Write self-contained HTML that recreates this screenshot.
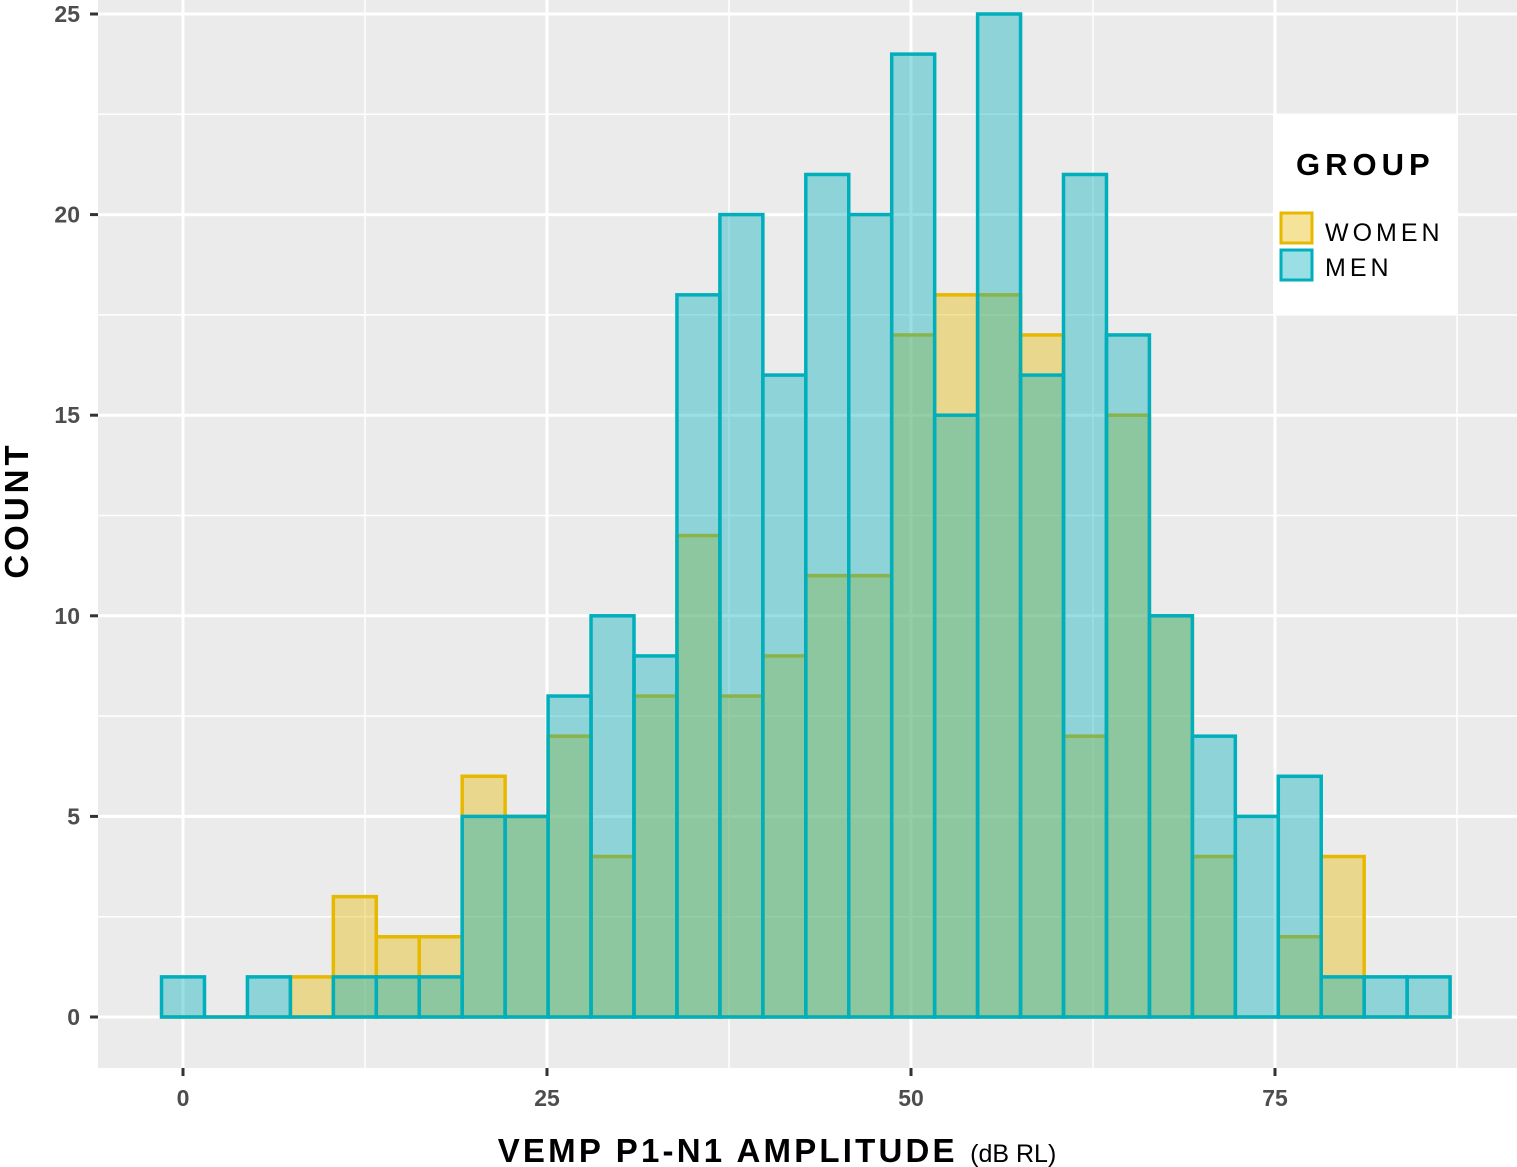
<!DOCTYPE html>
<html><head><meta charset="utf-8"><style>
html,body{margin:0;padding:0;background:#fff;}
svg{display:block;font-family:"Liberation Sans",sans-serif;}
</style></head><body>
<svg id="chart" width="1517" height="1167" xmlns="http://www.w3.org/2000/svg">
<rect x="98" y="0" width="1419" height="1068" fill="#EBEBEB"/>
<g id="grid"></g>
<g id="bars"></g>
<g id="axes"></g>
<text transform="translate(28,510) rotate(-90)" text-anchor="middle" font-size="33" font-weight="900" fill="#000" letter-spacing="4">COUNT</text>
<text x="777" y="1162" text-anchor="middle" font-size="33" font-weight="900" fill="#000" letter-spacing="3.2">VEMP P1-N1 AMPLITUDE <tspan font-size="25" font-weight="normal" letter-spacing="0">(dB RL)</tspan></text>
<g>
<rect x="1273" y="115" width="185" height="200" fill="#fff"/>
<text x="1296" y="175" font-size="31" font-weight="900" letter-spacing="5">GROUP</text>
<rect x="1281" y="213" width="31" height="30" fill="#E7B800" fill-opacity="0.4" stroke="#E7B800" stroke-width="3"/>
<rect x="1281" y="250" width="31" height="30" fill="#00AFBB" fill-opacity="0.4" stroke="#00AFBB" stroke-width="3"/>
<text x="1325" y="241" font-size="25" letter-spacing="4">WOMEN</text>
<text x="1325" y="276" font-size="25" letter-spacing="4">MEN</text>
</g>
</svg>
<script>
const binCenters=[0,2.95,5.9,8.85,11.8,14.75,17.7,20.65,23.6,26.55,29.5,32.45,35.4,38.35,41.3,44.25,47.2,50.15,53.1,56.05,59,61.95,64.9,67.85,70.8,73.75,76.7,79.65,82.6,85.55];
const womenCounts=[0,0,0,1,3,2,2,6,5,7,4,8,12,8,9,11,11,17,18,18,17,7,15,10,4,0,2,4,0,0];
const menCounts=[1,0,1,0,1,1,1,5,5,8,10,9,18,20,16,21,20,24,15,25,16,21,17,10,7,5,6,1,1,1];
const xTicks=[0,25,50,75];
const yTicks=[0,5,10,15,20,25];
const binWidth=2.95;
const NS="http://www.w3.org/2000/svg";
const xs=v=>183+v*14.56;
const ys=v=>1017-v*40.12;
function mk(tag,attrs,parent){const e=document.createElementNS(NS,tag);for(const k in attrs)e.setAttribute(k,attrs[k]);parent.appendChild(e);return e;}
const grid=document.getElementById('grid');
for(let v=-12.5;v<=87.5;v+=12.5){const x=xs(v);if(x<98||x>1517)continue;
 const l=mk('line',{x1:x,x2:x,y1:0,y2:1068,stroke:'#fff','stroke-width':xTicks.includes(v)?3:1.5},grid);
 
 }
for(let v=0;v<=25;v+=2.5){const y=ys(v);
 const l=mk('line',{x1:98,x2:1517,y1:y,y2:y,stroke:'#fff','stroke-width':(v%5===0)?3:1.5},grid);
 
 }
const bars=document.getElementById('bars');
function drawSeries(counts,color,name){
 counts.forEach((c,i)=>{const x0=xs(binCenters[i]-binWidth/2),x1=xs(binCenters[i]+binWidth/2);
  if(c===0){
   const z=mk('line',{x1:x0,x2:x1,y1:ys(0),y2:ys(0),stroke:color,'stroke-width':3.5},bars);
   
   
   return;}
  const r=mk('rect',{x:x0,y:ys(c),width:x1-x0,height:ys(0)-ys(c),fill:color,'fill-opacity':0.4,stroke:color,'stroke-width':3.5},bars);
  
  });
}
drawSeries(womenCounts,'#E7B800','women');
drawSeries(menCounts,'#00AFBB','men');
const axes=document.getElementById('axes');
yTicks.forEach(v=>{const y=ys(v);
 const t=mk('line',{x1:90,x2:98,y1:y,y2:y,stroke:'#333','stroke-width':3},axes);
 
 
 const tx=mk('text',{x:80,y:y+8,'text-anchor':'end','font-size':23,'font-weight':'bold',fill:'#4D4D4D'},axes);tx.textContent=v;
 
 });
xTicks.forEach(v=>{const x=xs(v);
 const t=mk('line',{x1:x,x2:x,y1:1068,y2:1076,stroke:'#333','stroke-width':3},axes);
 
 
 const tx=mk('text',{x:x,y:1106,'text-anchor':'middle','font-size':23,'font-weight':'bold',fill:'#4D4D4D'},axes);tx.textContent=v;
 
 });
</script>
</body></html>
